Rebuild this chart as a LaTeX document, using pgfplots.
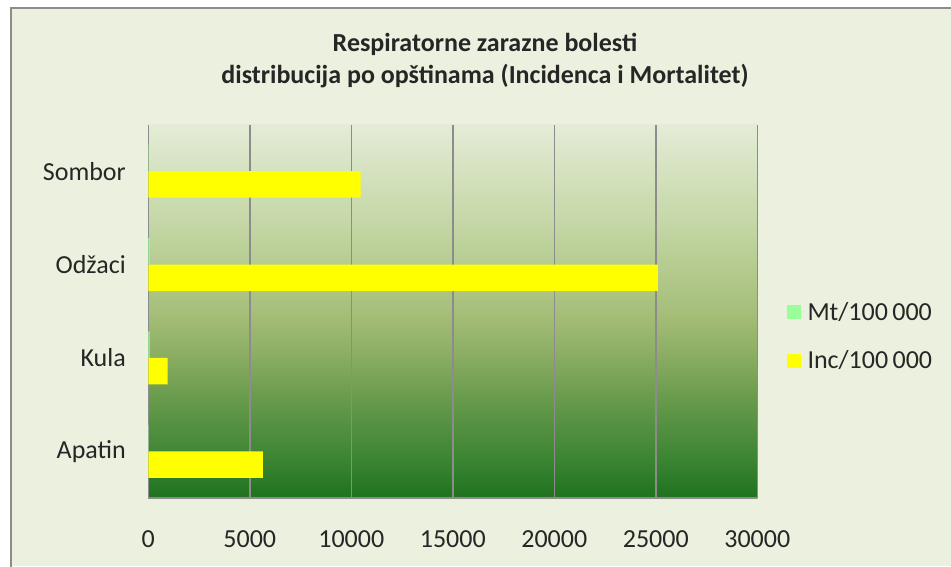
\documentclass[border=0pt]{standalone}
\usepackage{pgfplots}
\pgfplotsset{compat=1.18}
\usepackage{fontspec}
\setmainfont{Carlito}
\definecolor{bgc}{HTML}{EBF1DE}
\definecolor{frame}{HTML}{8C8C8C}
\definecolor{gT}{HTML}{E4ECD7}
\definecolor{g1}{HTML}{C6D8A8}
\definecolor{g2}{HTML}{A6BF7A}
\definecolor{g3}{HTML}{8FB066}
\definecolor{g4}{HTML}{64984A}
\definecolor{g5}{HTML}{3A8432}
\definecolor{gB}{HTML}{1E721E}
\definecolor{mtc}{HTML}{99FF99}
\definecolor{incc}{HTML}{FFFF00}
\definecolor{txt}{HTML}{262626}
\pgfdeclareverticalshading{plotbg}{100bp}{color(0bp)=(gB); color(25bp)=(gB); color(30bp)=(g5); color(37.5bp)=(g4); color(45bp)=(g3); color(50bp)=(g2); color(62.5bp)=(g1); color(75bp)=(gT); color(100bp)=(gT)}
\pgfplotstableread{
y inc mt
0 5650 10
1 955 60
2 25100 60
3 10460 15
}\datatab
\begin{document}
\begin{tikzpicture}[x=1pt,y=1pt]
\useasboundingbox (0,0) rectangle (951,566);
\fill[white] (0,0) rectangle (951,566);
\fill[bgc] (11,0) rectangle (951,558);
\draw[frame,line width=2pt] (11,-5) -- (11,558) -- (960,558);
\node[font=\fontsize{26}{32}\selectfont\bfseries, text=txt, align=center] at (485,505) {Respiratorne zarazne bolesti\\distribucija po opštinama (Incidenca i Mortalitet)};
\begin{axis}[
  at={(148.3pt,68pt)}, anchor=south west,
  scale only axis, width=609pt, height=373.5pt,
  xbar, bar width=26.5pt,
  xmin=0, xmax=30000, ymin=-0.5, ymax=3.5,
  xtick={0,5000,...,30000},
  ytick={0,1,2,3},
  yticklabels={Apatin,Kula,Odžaci,Sombor},
  scaled x ticks=false,
  /pgf/number format/assume math mode=true,
  xticklabel={\pgfmathprintnumber[1000 sep={}]{\tick}},
  tick label style={font=\fontsize{26}{30}\selectfont, text=txt},
  xticklabel style={yshift=-29pt},
  yticklabel style={xshift=-19pt},
  major tick length=0pt,
  xmajorgrids, grid style={frame, line width=1.5pt},
  axis line style={frame, line width=1.5pt},
  axis x line*=bottom, axis y line*=left,
  axis background/.style={shading=plotbg},
  legend style={at={(635pt,200pt)}, anchor=north west, draw=none, fill=none,
    font=\fontsize{26}{30}\selectfont, text=txt, row sep=25pt},
  legend cell align=left,
  legend image code/.code={\fill[#1] (0pt,-7pt) rectangle (14pt,7pt); \path (0pt,0pt) -- (19pt,0pt);},
  clip=false,
]
\addplot[fill=mtc, draw=none, bar shift=13.25pt] table[x=mt,y=y]{\datatab};
\addplot[fill=incc, draw=none, bar shift=-13.25pt] table[x=inc,y=y]{\datatab};
\legend{Mt/100\,000, Inc/100\,000}
\end{axis}
\end{tikzpicture}
\end{document}
